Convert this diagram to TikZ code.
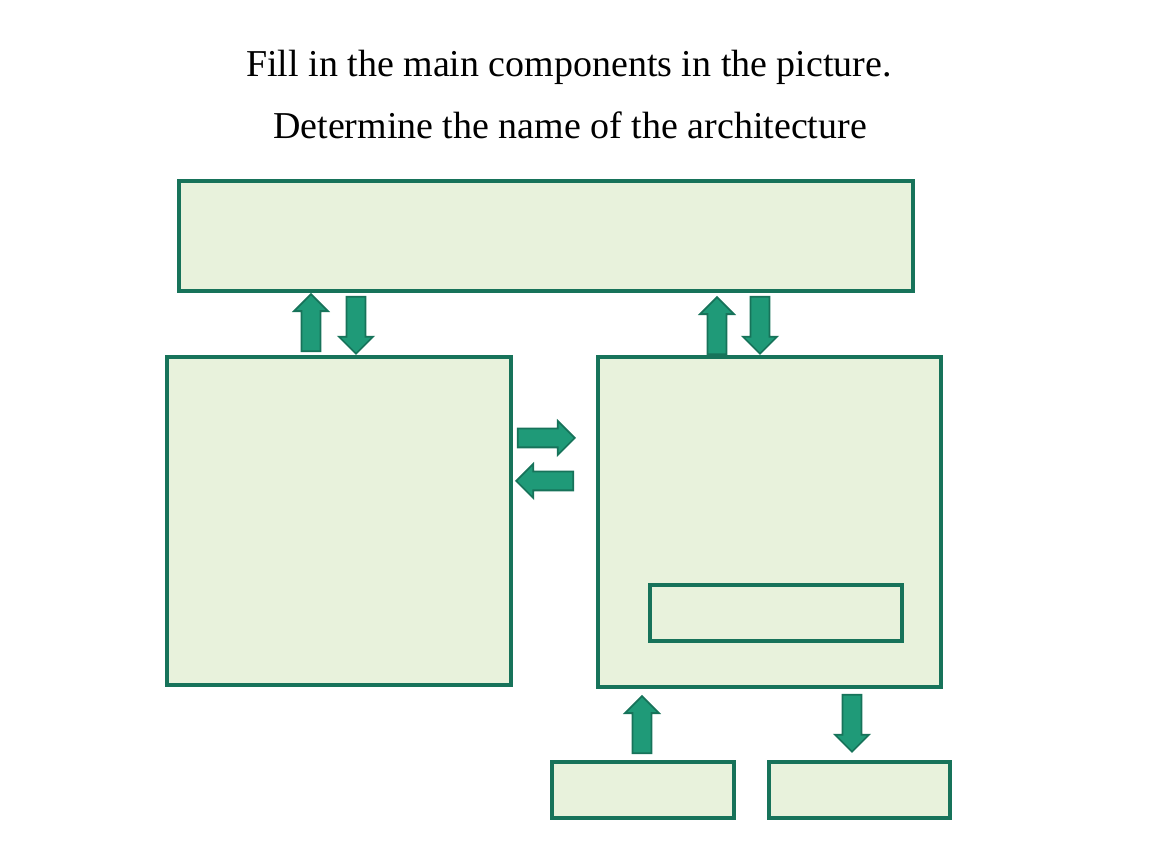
\documentclass[tikz,border=0pt]{standalone}
\usepackage{fontspec}
\setmainfont{Liberation Serif}
\usetikzlibrary{shapes,shapes.arrows,positioning}
\definecolor{boxline}{HTML}{17735A}
\definecolor{boxfill}{HTML}{E8F2DC}
\definecolor{arrfill}{HTML}{1F9A78}
\tikzset{
    x=0.01cm,y=-0.01cm,
    block/.style ={rectangle, draw=boxline, fill=boxfill, line width=1.2pt, inner sep=0pt},
    bigarrow/.style = {single arrow, draw=boxline, fill=arrfill, line width=0.5pt,
        inner sep=0.085cm, minimum height=0.57cm,
        single arrow head extend=0.075cm, anchor=tip},
    title/.style = {font=\fontsize{10.8}{13}\selectfont, inner sep=0pt}
}
\begin{document}
\begin{tikzpicture}
    \useasboundingbox (0,0) rectangle (1150,864);
 	\node[title] (t1) at (569,67) {Fill in the main components in the picture.};
 	\node[title] (t2) at (570,125) {Determine the name of the architecture};

    \node[block, minimum width=7.34cm, minimum height=1.10cm] (1) at (546,236) {};
    \node[block, minimum width=3.44cm, minimum height=3.28cm] (2) at (339,521) {};
    \node[block, minimum width=3.43cm, minimum height=3.30cm] (3) at (769.5,522) {};
    \node[block, minimum width=2.52cm, minimum height=0.56cm] (4) at (776,613) {};
    \node[block, minimum width=1.82cm, minimum height=0.56cm] (5) at (643,790) {};
    \node[block, minimum width=1.81cm, minimum height=0.56cm] (6) at (859.5,790) {};

	% between memory and left box
    \node[bigarrow, rotate=90] (a1) at (311,293) {};
    \node[bigarrow, rotate=-90] (a2) at (356,355) {};
	% between memory and right box
    \node[bigarrow, rotate=90] (a3) at (717,296) {};
    \node[bigarrow, rotate=-90] (a4) at (760,355) {};
	% between left and right box
    \node[bigarrow] (a5) at (576,438) {};
    \node[bigarrow, rotate=180] (a6) at (515,481) {};
	% input and output
    \node[bigarrow, rotate=90] (a7) at (642,695) {};
    \node[bigarrow, rotate=-90] (a8) at (852,753) {};
\end{tikzpicture}
\end{document}
